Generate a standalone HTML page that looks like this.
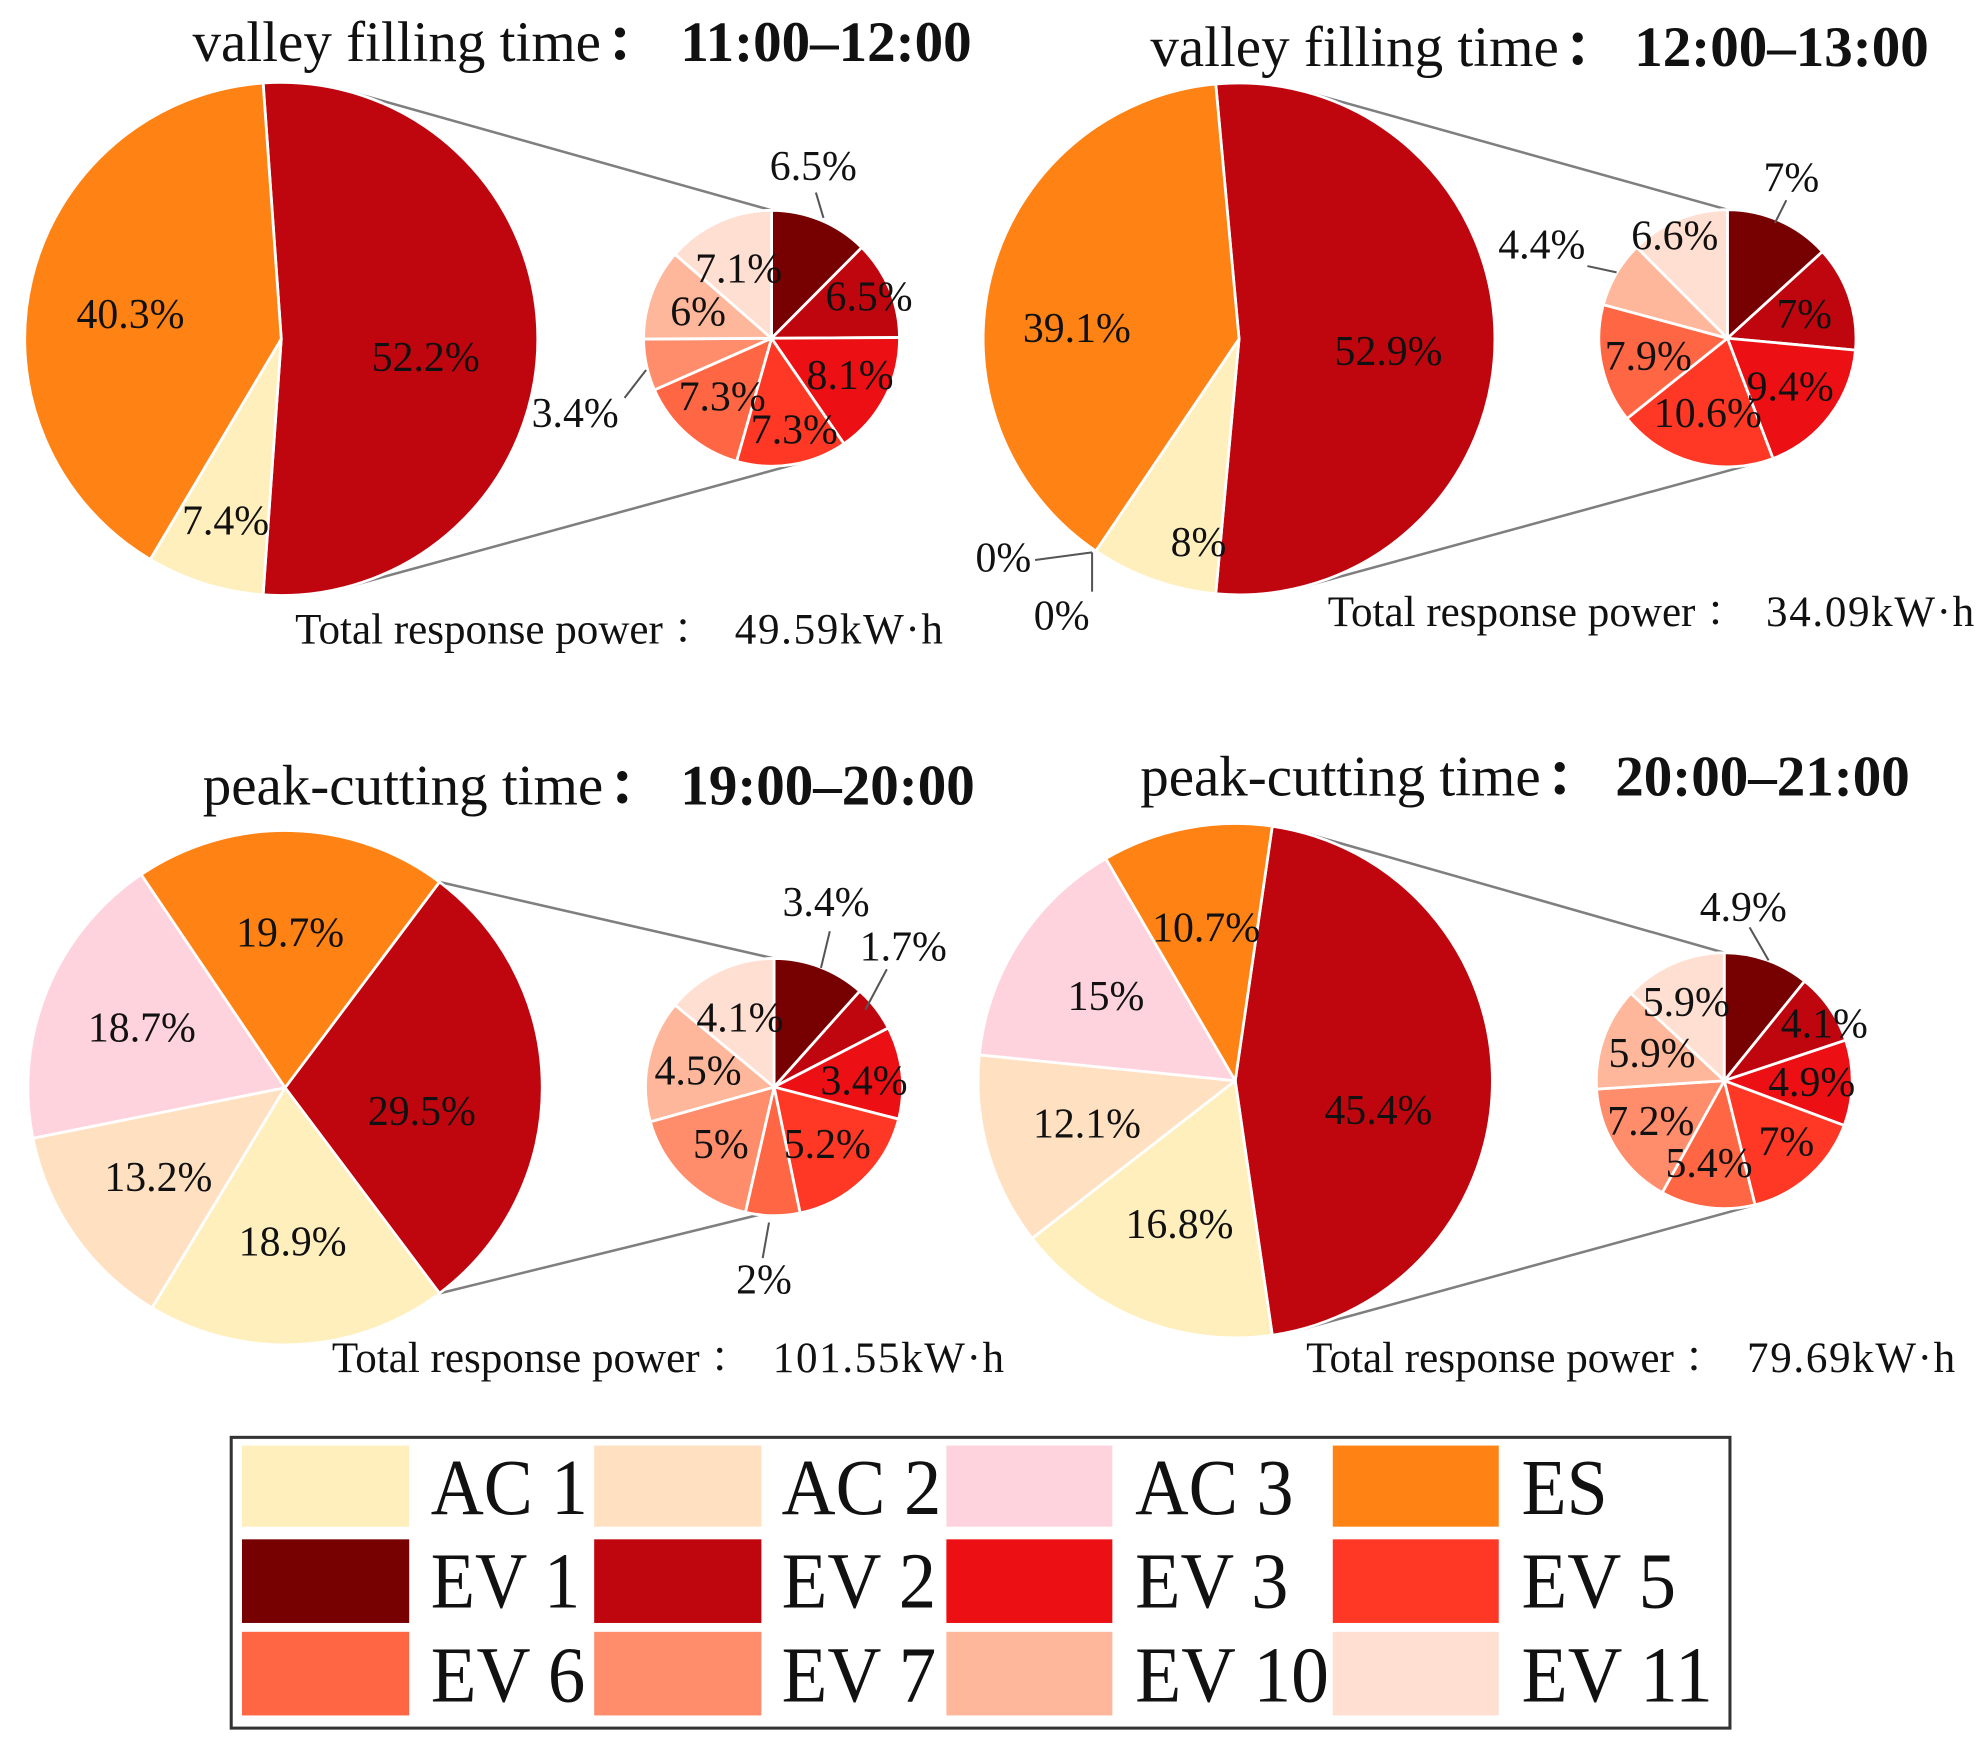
<!DOCTYPE html>
<html lang="en">
<head>
<meta charset="utf-8">
<title>Response power composition by period</title>
<style>
html,body{margin:0;padding:0;background:#fff;}
body{width:1986px;height:1757px;overflow:hidden;}
svg{display:block;}
text{font-family:"Liberation Serif","Noto Serif CJK SC",serif;fill:#111;}
</style>
</head>
<body>
<svg id="chart" xmlns="http://www.w3.org/2000/svg" width="1986" height="1757" viewBox="0 0 1567.6 1386.8" preserveAspectRatio="none">
  <rect x="0" y="0" width="1567.6" height="1386.8" fill="#ffffff"/>
  <g id="panels"></g>
  <g>
    <rect x="182.5" y="1134.5" width="1183" height="229.5" fill="#ffffff" stroke="#333333" stroke-width="2.4"/>
    <g><rect x="191" y="1141" width="132" height="64" fill="#FFEFBD"/><text x="340" y="1195" font-size="63" textLength="124" lengthAdjust="spacingAndGlyphs">AC 1</text></g>
    <g><rect x="469" y="1141" width="132" height="64" fill="#FFE0C1"/><text x="617" y="1195" font-size="63" textLength="126" lengthAdjust="spacingAndGlyphs">AC 2</text></g>
    <g><rect x="747" y="1141" width="131" height="64" fill="#FFD3DD"/><text x="896" y="1195" font-size="63" textLength="125" lengthAdjust="spacingAndGlyphs">AC 3</text></g>
    <g><rect x="1052" y="1141" width="131" height="64" fill="#FF8214"/><text x="1201" y="1195" font-size="63" textLength="68" lengthAdjust="spacingAndGlyphs">ES</text></g>
    <g><rect x="191" y="1215" width="132" height="66" fill="#770000"/><text x="340" y="1269" font-size="63" textLength="118" lengthAdjust="spacingAndGlyphs">EV 1</text></g>
    <g><rect x="469" y="1215" width="132" height="66" fill="#BF050E"/><text x="617" y="1269" font-size="63" textLength="122" lengthAdjust="spacingAndGlyphs">EV 2</text></g>
    <g><rect x="747" y="1215" width="131" height="66" fill="#EC0F14"/><text x="896" y="1269" font-size="63" textLength="121" lengthAdjust="spacingAndGlyphs">EV 3</text></g>
    <g><rect x="1052" y="1215" width="131" height="66" fill="#FF3826"/><text x="1201" y="1269" font-size="63" textLength="122" lengthAdjust="spacingAndGlyphs">EV 5</text></g>
    <g><rect x="191" y="1288" width="132" height="66" fill="#FF6644"/><text x="340" y="1343" font-size="63" textLength="122" lengthAdjust="spacingAndGlyphs">EV 6</text></g>
    <g><rect x="469" y="1288" width="132" height="66" fill="#FF8D6C"/><text x="617" y="1343" font-size="63" textLength="122" lengthAdjust="spacingAndGlyphs">EV 7</text></g>
    <g><rect x="747" y="1288" width="131" height="66" fill="#FFB79B"/><text x="896" y="1343" font-size="63" textLength="153" lengthAdjust="spacingAndGlyphs">EV 10</text></g>
    <g><rect x="1052" y="1288" width="131" height="66" fill="#FFDFD1"/><text x="1201" y="1343" font-size="63" textLength="151" lengthAdjust="spacingAndGlyphs">EV 11</text></g>
  </g>
</svg>
<script>
// ---- Data ----
const mainCategories = ['EV total', 'AC 1', 'AC 2', 'AC 3', 'ES'];
const evCategories = ['EV 1', 'EV 2', 'EV 3', 'EV 5', 'EV 6', 'EV 7', 'EV 10', 'EV 11'];

const mainValues11to12 = [52.2, 7.4, 0, 0, 40.3];
const mainValues12to13 = [52.9, 8, 0, 0, 39.1];
const mainValues19to20 = [29.5, 18.9, 13.2, 18.7, 19.7];
const mainValues20to21 = [45.4, 16.8, 12.1, 15, 10.7];

const evValues11to12 = [6.5, 6.5, 8.1, 7.3, 7.3, 3.4, 6, 7.1];
const evValues12to13 = [7, 7, 9.4, 10.6, 7.9, 0, 4.4, 6.6];
const evValues19to20 = [3.4, 1.7, 3.4, 5.2, 2, 5, 4.5, 4.1];
const evValues20to21 = [4.9, 4.1, 4.9, 7, 5.4, 7.2, 5.9, 5.9];

const periodKinds = ['valley filling time', 'valley filling time', 'peak-cutting time', 'peak-cutting time'];
const periodTimes = ['11:00–12:00', '12:00–13:00', '19:00–20:00', '20:00–21:00'];
const totalPower = ['49.59kW·h', '34.09kW·h', '101.55kW·h', '79.69kW·h'];

// ---- Colours ----
const mainColors = ['#BF050E', '#FFEFBD', '#FFE0C1', '#FFD3DD', '#FF8214'];
const evColors = ['#770000', '#BF050E', '#EC0F14', '#FF3826', '#FF6644', '#FF8D6C', '#FFB79B', '#FFDFD1'];

// ---- Layout (not data) ----
const panelLayouts = [
  { main: [222, 267.5, 202.5], sub: [609, 267, 101], lowerEnd: 168, title: [152, 537, 48], total: [233, 580, 508],
    mainLabels: [[336, 283], [178, 412], null, null, [103, 249]],
    evLabels: [[642, 132], [686, 235], [671, 297], [627, 340], [570, 314], [454, 327], [551, 247], [583, 213]],
    leaders: [[644, 152, 650, 172], [510, 292, 493, 314]] },
  { main: [978, 267.5, 202], sub: [1363.5, 267, 101.5], lowerEnd: 159, title: [908, 1290, 52], total: [1048, 1394, 494],
    mainLabels: [[1096, 278], [946, 429], [838, 487], [792, 441], [850, 260]],
    evLabels: [[1414, 141], [1424, 249], [1413, 306], [1348, 327], [1301, 282], null, [1217, 194], [1322, 187]],
    leaders: [[1410, 158, 1401, 176], [1253, 210, 1276, 215], [817, 442, 862, 436], [862, 436, 862, 467]] },
  { main: [225, 858.5, 203], sub: [611, 858, 101.5], lowerEnd: 186.7, title: [160, 537, 635], total: [262, 610, 1083],
    mainLabels: [[333, 878], [231, 981], [125, 930], [112, 812], [229, 737]],
    evLabels: [[652, 713], [713, 748], [682, 854], [653, 904], [603, 1011], [569, 904], [551, 846], [584, 804]],
    leaders: [[655, 735, 648, 764], [700, 765, 683, 797], [607, 965, 602, 993]] },
  { main: [975, 853, 203], sub: [1361, 853, 101], lowerEnd: 165.7, title: [900, 1275, 628], total: [1031, 1379, 1083],
    mainLabels: [[1088, 877], [931, 967], [858, 888], [873, 787], [952, 733]],
    evLabels: [[1376, 717], [1440, 809], [1430, 855], [1410, 902], [1349, 919], [1303, 886], [1304, 832], [1331, 792]],
    leaders: [[1381, 732, 1396, 758]] }
];

const allMainValues = [mainValues11to12, mainValues12to13, mainValues19to20, mainValues20to21];
const allEvValues = [evValues11to12, evValues12to13, evValues19to20, evValues20to21];

// ---- Drawing ----
const SVG_NS = 'http://www.w3.org/2000/svg';
const rootGroup = document.getElementById('panels');

function make(tag, parent, attrs) {
  const el = document.createElementNS(SVG_NS, tag);
  Object.keys(attrs).forEach(function (k) { el.setAttribute(k, attrs[k]); });
  parent.appendChild(el);
  return el;
}
function slug(s) { return s.toLowerCase().replace(/[^a-z0-9]+/g, '-'); }
// Angle scale: degrees clockwise from 12 o'clock.
function polar(c, deg) {
  const a = deg * Math.PI / 180;
  return [c[0] + c[2] * Math.sin(a), c[1] - c[2] * Math.cos(a)];
}
function slicePath(c, from, to) {
  const p0 = polar(c, from);
  const p1 = polar(c, to);
  const large = to - from > 180 ? 1 : 0;
  return 'M' + c[0] + ' ' + c[1] + 'L' + p0[0] + ' ' + p0[1] +
    'A' + c[2] + ' ' + c[2] + ' 0 ' + large + ' 1 ' + p1[0] + ' ' + p1[1] + 'Z';
}
function sum(values) { return values.reduce(function (a, b) { return a + b; }, 0); }

function drawSlices(group, c, values, names, colors, start, prefix) {
  const total = sum(values);
  let angle = start;
  values.forEach(function (v, i) {
    const sweep = v / total * 360;
    if (v > 0) {
      const path = make('path', group, {
        d: slicePath(c, angle, angle + sweep),
        fill: colors[i],
        stroke: '#ffffff',
        'stroke-width': 2.2,
        'stroke-linejoin': 'round'
      });
      
      
    }
    angle += sweep;
  });
}
function drawLabels(group, values, positions, prefix, names) {
  values.forEach(function (v, i) {
    const at = positions[i];
    if (!at) return;
    const t = make('text', group, { x: at[0], y: at[1] + 10, 'font-size': 33, 'text-anchor': 'middle' });
    
    
    t.textContent = v + '%';
  });
}
function connectorStart(main, target, wedgeEdge, isUpper) {
  const dx = target[0] - main[0];
  const dy = target[1] - main[1];
  const dist = Math.sqrt(dx * dx + dy * dy);
  const dir = Math.atan2(dx, -dy) * 180 / Math.PI;
  const off = Math.acos(main[2] / dist) * 180 / Math.PI;
  const angle = isUpper ? Math.max(dir - off, wedgeEdge) : Math.min(dir + off, wedgeEdge);
  return polar(main, angle);
}

panelLayouts.forEach(function (layout, p) {
  const mainValues = allMainValues[p];
  const evValues = allEvValues[p];
  const id = 'panel-' + slug(periodTimes[p]);
  const g = make('g', rootGroup, {});
  
  

  // Title
  const title = make('text', g, { x: layout.title[0], y: layout.title[2], 'font-size': 45 });
  
  
  title.textContent = periodKinds[p];
  const titleColon = make('tspan', title, { dx: 3, 'font-weight': 'bold' });
  titleColon.textContent = '：';
  const time = make('text', g, { x: layout.title[1], y: layout.title[2], 'font-size': 45, 'font-weight': 'bold' });
  
  
  time.textContent = periodTimes[p];

  // Main pie geometry: first wedge centred on 3 o'clock
  const mainTotal = sum(mainValues);
  const evShare = mainValues[0] / mainTotal * 360;
  const mainStart = 90 - evShare / 2;

  // Connectors
  const upperTarget = polar(layout.sub, 0);
  const lowerTarget = polar(layout.sub, layout.lowerEnd);
  const upperStart = connectorStart(layout.main, upperTarget, mainStart, true);
  const lowerStart = connectorStart(layout.main, lowerTarget, mainStart + evShare, false);
  const upper = make('line', g, { x1: upperStart[0], y1: upperStart[1], x2: upperTarget[0], y2: upperTarget[1], stroke: '#7f7f7f', 'stroke-width': 2 });
  
  
  const lower = make('line', g, { x1: lowerStart[0], y1: lowerStart[1], x2: lowerTarget[0], y2: lowerTarget[1], stroke: '#7f7f7f', 'stroke-width': 2 });
  
  

  // Pies
  drawSlices(g, layout.main, mainValues, mainCategories, mainColors, mainStart, id + '-main');
  drawSlices(g, layout.sub, evValues, evCategories, evColors, 0, id + '-ev');

  // Leader lines
  layout.leaders.forEach(function (l) {
    const leader = make('line', g, { x1: l[0], y1: l[1], x2: l[2], y2: l[3], stroke: '#555555', 'stroke-width': 1.6 });
    
    
  });

  // Value labels
  drawLabels(g, mainValues, layout.mainLabels, id + '-main', mainCategories);
  drawLabels(g, evValues, layout.evLabels, id + '-ev', evCategories);

  // Total response power
  const totalLabel = make('text', g, { x: layout.total[0], y: layout.total[2], 'font-size': 34 });
  
  
  totalLabel.textContent = 'Total response power';
  const totalColon = make('tspan', totalLabel, { dx: 8 });
  totalColon.textContent = '：';
  const totalValue = make('text', g, { x: layout.total[1], y: layout.total[2], 'font-size': 34, 'letter-spacing': 1.3 });
  
  
  totalValue.textContent = totalPower[p];
});
</script>
</body>
</html>
